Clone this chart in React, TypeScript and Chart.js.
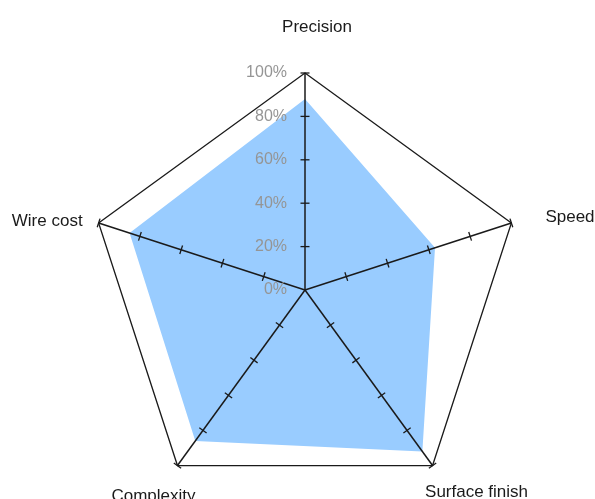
import React, { useEffect, useRef } from 'react';
import { Chart, registerables } from 'chart.js';

Chart.register(...registerables);

// ---- data ----
const categories = ['Precision', 'Speed', 'Surface finish', 'Complexity', 'Wire cost'];
const scores = [88, 63, 92, 86, 85];
const tickValues = [0, 20, 40, 60, 80, 100];
const tickLabels = ['0%', '20%', '40%', '60%', '80%', '100%'];

// ---- layout / style constants ----
const CENTER_X = 305;
const CENTER_Y = 290;
const RADIUS = 217;
const LINE_COLOR = '#1a1a1a';
const FILL_COLOR = '#99CCFF';
// label anchor offsets relative to each spoke end: [dx, dy, align]
const LABEL_OFFSETS: [number, number, CanvasTextAlign][] = [
  [12, -41, 'center'],
  [34, -1, 'left'],
  [44, 31, 'center'],
  [-24, 35, 'center'],
  [-16, 3, 'right'],
];

const radarDecor = {
  id: 'radarDecor',
  afterLayout(chart: any) {
    const s = chart.scales.r;
    s.xCenter = CENTER_X;
    s.yCenter = CENTER_Y;
    s.drawingArea = RADIUS;
  },
  afterDraw(chart: any) {
    const s = chart.scales.r;
    const ctx: CanvasRenderingContext2D = chart.ctx;
    ctx.save();
    // tick marks on every spoke
    ctx.strokeStyle = LINE_COLOR;
    ctx.lineWidth = 1.3;
    categories.forEach((_, i) => {
      const end = s.getPointPosition(i, s.drawingArea);
      const dx = end.x - s.xCenter;
      const dy = end.y - s.yCenter;
      const len = Math.hypot(dx, dy);
      const px = -dy / len;
      const py = dx / len;
      tickValues.forEach((v) => {
        if (v === 0) return;
        const p = s.getPointPositionForValue(i, v);
        ctx.beginPath();
        ctx.moveTo(p.x - px * 4.5, p.y - py * 4.5);
        ctx.lineTo(p.x + px * 4.5, p.y + py * 4.5);
        ctx.stroke();
      });
    });
    // tick labels to the left of the first spoke
    ctx.font = '16px "Liberation Sans", Arial, sans-serif';
    ctx.fillStyle = '#959595';
    ctx.textAlign = 'right';
    ctx.textBaseline = 'middle';
    tickValues.forEach((v, k) => {
      const p = s.getPointPositionForValue(0, v);
      ctx.fillText(tickLabels[k], p.x - 18, p.y);
    });
    // category labels
    ctx.font = '17px "Liberation Sans", Arial, sans-serif';
    ctx.fillStyle = '#1a1a1a';
    ctx.textBaseline = 'alphabetic';
    categories.forEach((name, i) => {
      const end = s.getPointPosition(i, s.drawingArea);
      const [ox, oy, align] = LABEL_OFFSETS[i];
      ctx.textAlign = align;
      ctx.fillText(name, end.x + ox, end.y + oy);
    });
    ctx.restore();
  },
};

export default function App() {
  const ref = useRef<HTMLCanvasElement | null>(null);
  useEffect(() => {
    if (!ref.current) return;
    const chart = new Chart(ref.current, {
      type: 'radar',
      data: {
        labels: categories,
        datasets: [
          {
            data: scores,
            backgroundColor: FILL_COLOR,
            borderWidth: 0,
            borderColor: 'transparent',
            pointRadius: 0,
            pointHoverRadius: 0,
            fill: true,
            tension: 0,
          },
        ],
      },
      options: {
        responsive: false,
        animation: false,
        events: [],
        layout: { padding: 0 },
        plugins: {
          legend: { display: false },
          tooltip: { enabled: false },
        },
        scales: {
          r: {
            min: 0,
            max: 100,
            ticks: { stepSize: 20, display: false },
            pointLabels: { display: false },
            grid: {
              z: 1,
              lineWidth: 1.3,
              color: (c: any) => (c.tick && c.tick.value === 100 ? LINE_COLOR : 'transparent'),
            },
            angleLines: { display: true, color: LINE_COLOR, lineWidth: 1.5 },
          },
        },
      },
      plugins: [radarDecor],
    });
    return () => chart.destroy();
  }, []);
  return (
    <div style={{ position: 'absolute', left: 0, top: 0, width: 595, height: 499, background: '#fff' }}>
      <canvas ref={ref} width={595} height={499} style={{ display: 'block' }} />
    </div>
  );
}
